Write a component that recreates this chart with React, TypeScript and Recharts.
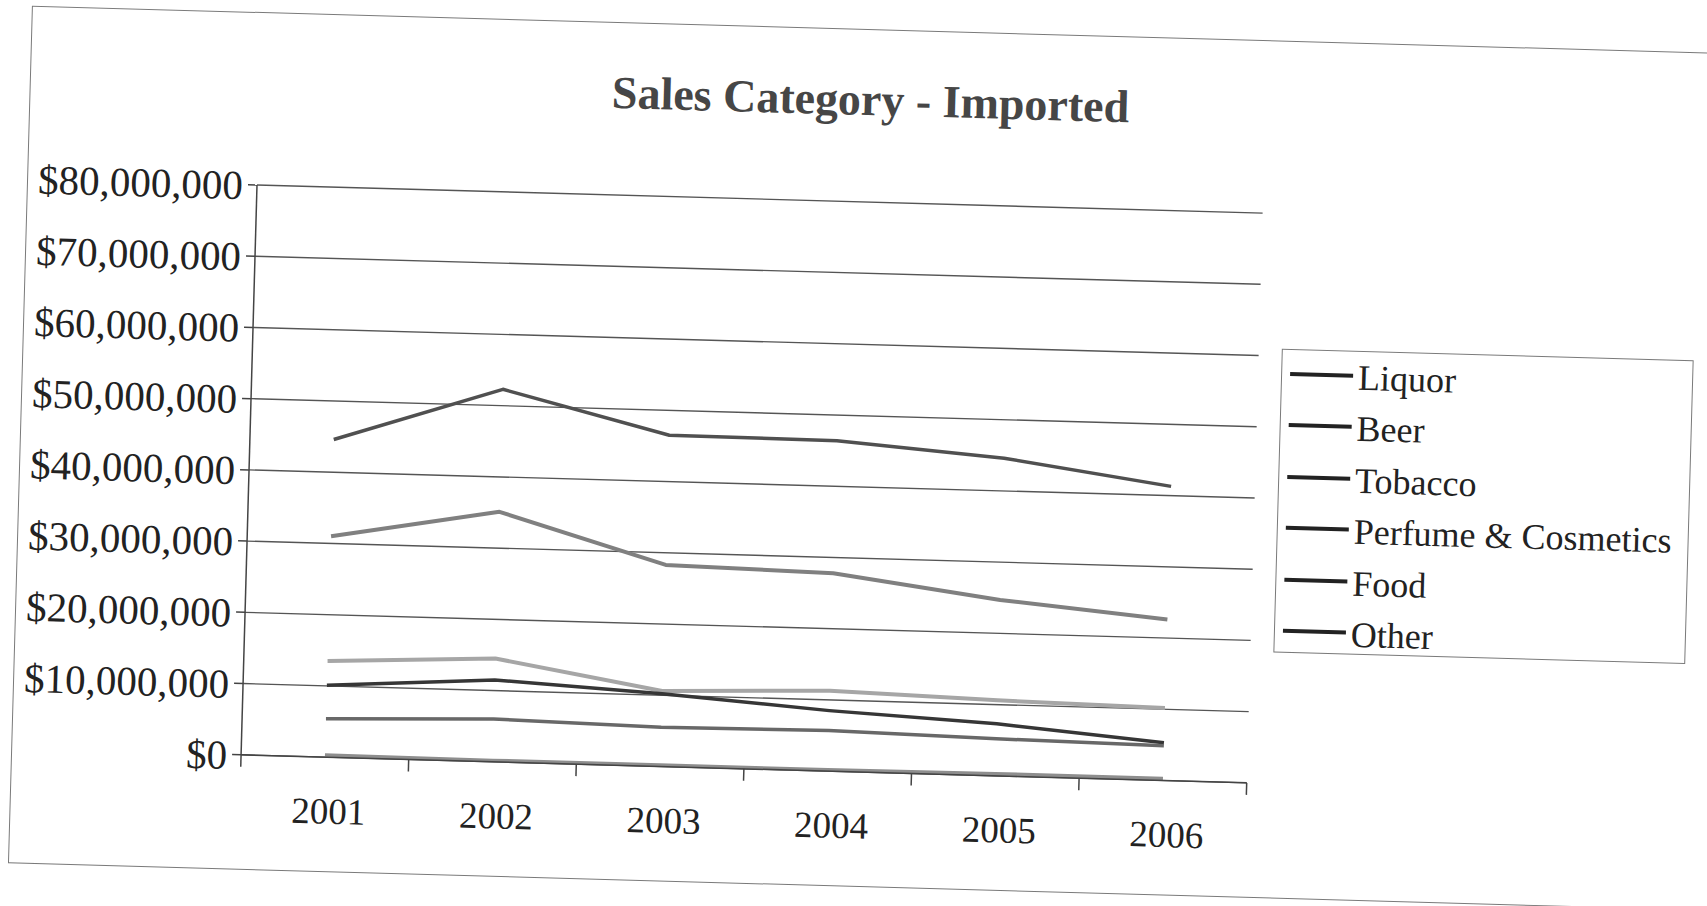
import React from 'react';
import { LineChart, Line, XAxis, YAxis, CartesianGrid } from 'recharts';

const title = 'Sales Category - Imported';
const years = ['2001', '2002', '2003', '2004', '2005', '2006'];
const liquor = [44600000, 52300000, 46500000, 46400000, 44600000, 41300000];
const beer = [31000000, 35100000, 28300000, 27800000, 24700000, 22600000];
const tobacco = [13500000, 14500000, 10600000, 11300000, 10600000, 10200000];
const perfume = [10100000, 11500000, 10200000, 8500000, 7300000, 5300000];
const food = [5400000, 6000000, 5500000, 5700000, 5200000, 4900000];
const other = [300000, 200000, 200000, 200000, 300000, 300000];
const seriesNames = ['Liquor', 'Beer', 'Tobacco', 'Perfume & Cosmetics', 'Food', 'Other'];
const seriesKeys = ['liquor', 'beer', 'tobacco', 'perfume', 'food', 'other'];
const seriesColors = ['#505050', '#808080', '#a6a6a6', '#363636', '#686868', '#8e8e8e'];
const seriesWidths = [3.5, 4, 4, 3.5, 3.5, 3.5];
const yTicks = [0, 10000000, 20000000, 30000000, 40000000, 50000000, 60000000, 70000000, 80000000];

const data = years.map((year, i) => ({
  year,
  liquor: liquor[i],
  beer: beer[i],
  tobacco: tobacco[i],
  perfume: perfume[i],
  food: food[i],
  other: other[i],
}));

const FONT = "'Liberation Serif', 'Times New Roman', serif";
const PLOT_LEFT = 257;
const PLOT_TOP = 185;
const PLOT_W = 1006;
const PLOT_H = 570;
const CHART_W = 1300;
const CHART_H = 870;
const YAXIS_W = 230;
const XAXIS_H = 80;
const AXIS_COLOR = '#444';

const fmt = (v: number) => '$' + v.toLocaleString('en-US');

const XTick = (props: any) => {
  const { x, y, payload, index } = props;
  const band = PLOT_W / years.length;
  return (
    <g>
      {index === 0 && (
        <line x1={x - band / 2} x2={x - band / 2} y1={y} y2={y + 12} stroke={AXIS_COLOR} strokeWidth={1.5} />
      )}
      <line x1={x + band / 2} x2={x + band / 2} y1={y} y2={y + 12} stroke={AXIS_COLOR} strokeWidth={1.5} />
      <text
        x={x + 5}
        y={y + 54}
        textAnchor="middle"
        dominantBaseline="central"
        fontFamily={FONT}
        fontSize={37}
        fill="#222"
      >
        {payload.value}
      </text>
    </g>
  );
};

export default function App() {
  return (
    <div
      style={{
        position: 'fixed',
        left: 0,
        top: 0,
        width: 1707,
        height: 906,
        overflow: 'hidden',
        background: '#fff',
      }}
    >
      <div
        style={{
          position: 'absolute',
          left: 0,
          top: 0,
          width: 1800,
          height: 900,
          transform: 'rotate(1.6deg)',
          transformOrigin: `${PLOT_LEFT}px ${PLOT_TOP}px`,
        }}
      >
        <div
          style={{
            position: 'absolute',
            left: 27,
            top: 12,
            width: 1760,
            height: 858,
            border: '1.5px solid #7a7a7a',
            boxSizing: 'border-box',
          }}
        />
        <div
          style={{
            position: 'absolute',
            left: 368,
            top: 60,
            width: 1000,
            textAlign: 'center',
            fontFamily: FONT,
            fontWeight: 'bold',
            fontSize: 46,
            lineHeight: 1,
            color: '#464646',
            whiteSpace: 'nowrap',
          }}
        >
          {title}
        </div>
        <div style={{ position: 'absolute', left: 0, top: 0 }}>
          <LineChart
            width={CHART_W}
            height={CHART_H}
            data={data}
            margin={{
              top: PLOT_TOP,
              left: PLOT_LEFT - YAXIS_W,
              right: CHART_W - PLOT_LEFT - PLOT_W,
              bottom: CHART_H - PLOT_TOP - PLOT_H - XAXIS_H,
            }}
          >
            <CartesianGrid vertical={false} stroke="#555" strokeWidth={1.4} />
            <XAxis
              dataKey="year"
              scale="band"
              height={XAXIS_H}
              tickLine={false}
              tickSize={0}
              tickMargin={0}
              axisLine={{ stroke: AXIS_COLOR, strokeWidth: 1.5 }}
              tick={<XTick />}
              interval={0}
            />
            <YAxis
              width={YAXIS_W}
              domain={[0, 80000000]}
              ticks={yTicks}
              tickFormatter={fmt}
              tickSize={9}
              tickMargin={5}
              axisLine={{ stroke: AXIS_COLOR, strokeWidth: 1.5 }}
              tickLine={{ stroke: AXIS_COLOR, strokeWidth: 1.5 }}
              tick={{ fontFamily: FONT, fontSize: 41, fill: '#222' }}
              interval={0}
            />
            <YAxis
              yAxisId="right"
              orientation="right"
              width={0}
              tick={false}
              tickLine={false}
              axisLine={{ stroke: AXIS_COLOR, strokeWidth: 1.5 }}
            />
            {seriesKeys.map((k, i) => (
              <Line
                key={k}
                type="linear"
                dataKey={k}
                name={seriesNames[i]}
                stroke={seriesColors[i]}
                strokeWidth={seriesWidths[i]}
                dot={false}
                activeDot={false}
                strokeLinejoin="round"
                isAnimationActive={false}
              />
            ))}
          </LineChart>
        </div>
        <div
          style={{
            position: 'absolute',
            left: 1286,
            top: 320,
            width: 412,
            height: 304,
            border: '1.5px solid #7a7a7a',
            boxSizing: 'border-box',
            background: '#fff',
            display: 'flex',
            flexDirection: 'column',
          }}
        >
          {seriesNames.map((n) => (
            <div
              key={n}
              style={{
                height: 51.5,
                flex: '0 0 51.5px',
                display: 'flex',
                alignItems: 'center',
                whiteSpace: 'nowrap',
              }}
            >
              <div
                style={{
                  marginLeft: 8,
                  width: 63,
                  height: 4,
                  background: '#222',
                  position: 'relative',
                  top: -2,
                }}
              />
              <span
                style={{
                  marginLeft: 5,
                  fontFamily: FONT,
                  fontSize: 36,
                  color: '#222',
                  lineHeight: 'normal',
                }}
              >
                {n}
              </span>
            </div>
          ))}
        </div>
      </div>
    </div>
  );
}
